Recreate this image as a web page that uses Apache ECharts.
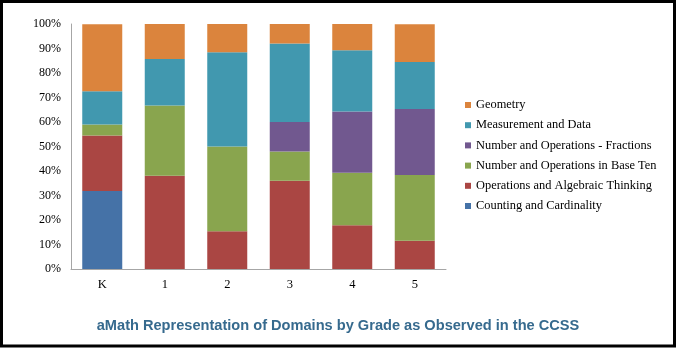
<!DOCTYPE html>
<html>
<head>
<meta charset="utf-8">
<script src="https://cdn.jsdelivr.net/npm/echarts@6/dist/echarts.min.js"></script>
<style>
html,body{margin:0;padding:0;background:#fff;}
#c{width:676px;height:348px;}
</style>
</head>
<body>
<div id="c"></div>
<script>
const categories = ['K', '1', '2', '3', '4', '5'];
const countingCardinality = [31.8, 0, 0, 0, 0, 0];
const operationsAlgebraic = [22.7, 38.1, 15.4, 36.0, 17.9, 11.5];
const numberBaseTen = [4.5, 28.6, 34.6, 12.0, 21.4, 26.9];
const numberFractions = [0, 0, 0, 12.0, 25.0, 26.9];
const measurementData = [13.6, 19.0, 38.5, 32.0, 25.0, 19.2];
const geometry = [27.3, 14.3, 11.5, 8.0, 10.7, 15.4];
const yTicks = [0, 10, 20, 30, 40, 50, 60, 70, 80, 90, 100];

const seriesDefs = [
  ['Counting and Cardinality', countingCardinality, '#4572A7'],
  ['Operations and Algebraic Thinking', operationsAlgebraic, '#AA4643'],
  ['Number and Operations in Base Ten', numberBaseTen, '#89A54E'],
  ['Number and Operations - Fractions', numberFractions, '#71588F'],
  ['Measurement and Data', measurementData, '#4198AF'],
  ['Geometry', geometry, '#DB843D']
];

const chart = echarts.init(document.getElementById('c'), null, {renderer: 'canvas'});
const serif = '"Liberation Serif", "Times New Roman", serif';
chart.setOption({
  animation: false,
  backgroundColor: '#fff',
  title: {
    text: 'aMath Representation of Domains by Grade as Observed in the CCSS',
    left: 'center',
    top: 313,
    textStyle: {fontFamily: '"Liberation Sans", Arial, sans-serif', fontWeight: 'bold', fontSize: 14.6, color: '#366a8e'}
  },
  legend: {
    orient: 'vertical',
    left: 460,
    top: 94,
    itemWidth: 6,
    itemHeight: 6,
    itemGap: 8.2,
    icon: 'rect',
    data: seriesDefs.map(s => s[0]).reverse(),
    textStyle: {fontFamily: serif, fontSize: 12.4, color: '#000'}
  },
  grid: {left: 71, right: 230, top: 24, bottom: 79, containLabel: false},
  xAxis: {
    type: 'category',
    data: categories,
    axisLine: {lineStyle: {color: '#a6a6a6', width: 1}},
    axisTick: {show: false},
    axisLabel: {fontFamily: serif, fontSize: 12.5, color: '#000', margin: 9}
  },
  yAxis: {
    type: 'value',
    min: yTicks[0],
    max: yTicks[yTicks.length - 1],
    interval: 10,
    axisLine: {show: true, lineStyle: {color: '#a6a6a6', width: 1}},
    axisTick: {show: false},
    splitLine: {show: false},
    axisLabel: {fontFamily: serif, fontSize: 12, color: '#000', margin: 10, formatter: '{value}%'}
  },
  series: seriesDefs.map(([name, data, color]) => ({
    name: name,
    type: 'bar',
    stack: 'total',
    data: data,
    barWidth: 40,
    itemStyle: {color: color}
  })),
  graphic: [{
    type: 'rect',
    silent: true,
    z: 100,
    shape: {x: 1.5, y: 1.5, width: 673, height: 344.5},
    style: {fill: 'none', stroke: '#000', lineWidth: 3}
  }]
});
</script>
</body>
</html>
